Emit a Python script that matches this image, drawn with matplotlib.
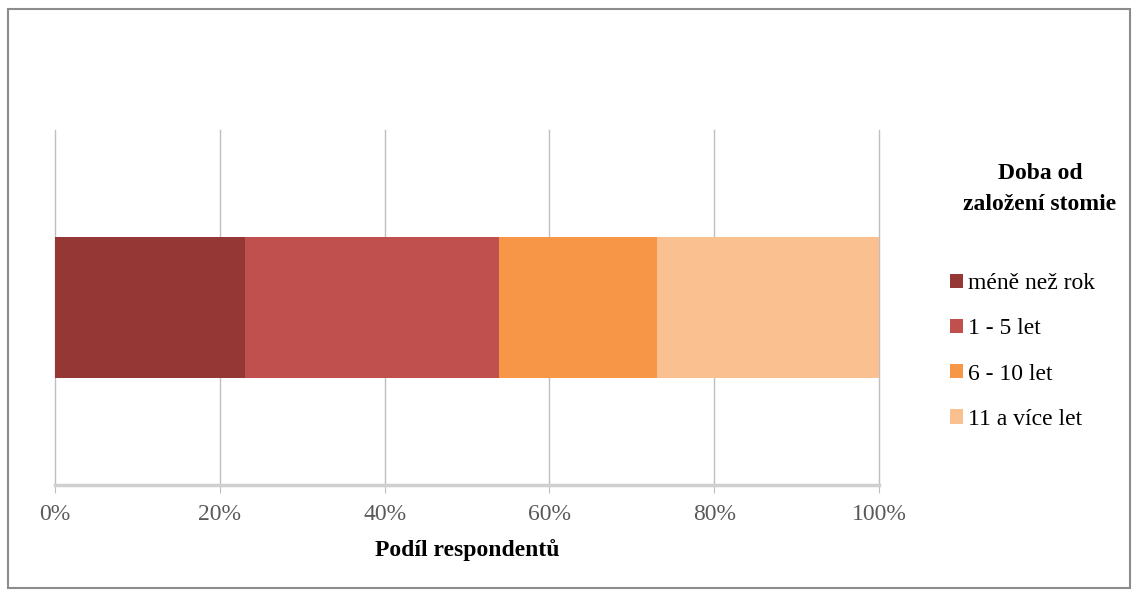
import matplotlib.pyplot as plt
from matplotlib.patches import Rectangle

# time since stoma creation, share of respondents (%)
categories = ['méně než rok', '1 - 5 let', '6 - 10 let', '11 a více let']
shares = [23.1, 30.8, 19.2, 26.9]
colors = ['#953735', '#C0504D', '#F79646', '#FAC090']
ticks = [0, 20, 40, 60, 80, 100]
tick_labels = ['0%', '20%', '40%', '60%', '80%', '100%']

plt.rcParams['font.family'] = ['Liberation Serif', 'DejaVu Serif']

fig = plt.figure(figsize=(11.32, 5.92), dpi=100)
ax = fig.add_axes([55 / 1132, 1 - 485 / 592, 824 / 1132, 355 / 592])

left = 0
for name, val, col in zip(categories, shares, colors):
    ax.barh(0, val, left=left, height=0.395, color=col, label=name, zorder=3)
    left += val

ax.set_xlim(0, 100)
ax.set_ylim(-0.5, 0.5)
ax.set_xticks(ticks)
ax.set_xticklabels(tick_labels, fontsize=17, color='#595959')
ax.set_yticks([])
for t in ticks:
    ax.axvline(t, color='#bfbfbf', lw=1, zorder=0, clip_on=False)
ax.tick_params(axis='x', length=6, color='#bfbfbf', pad=8)
for side in ['top', 'right', 'left']:
    ax.spines[side].set_visible(False)
ax.spines['bottom'].set_color('#d0d0d0')
ax.spines['bottom'].set_linewidth(2.5)

fig.text(467 / 1132, 1 - 550 / 592, 'Podíl respondentů', ha='center', va='center',
         fontsize=17, fontweight='bold')

# legend title and entries
fig.text(1040 / 1132, 1 - 189 / 592, 'Doba od\nzaložení stomie', ha='center', va='center',
         fontsize=17, fontweight='bold', linespacing=1.6)
fig.legend(loc='upper left', bbox_to_anchor=(950 / 1132, 1 - 273 / 592), frameon=False,
           fontsize=17, handlelength=0.55, handleheight=0.55, handletextpad=0.2,
           labelspacing=1.03, borderpad=0, borderaxespad=0)

# chart border
fig.patches.append(Rectangle((8 / 1132, 4 / 592), 1122 / 1132, 579 / 592,
                             transform=fig.transFigure, fill=False,
                             edgecolor='#8c8c8c', lw=1.5))

fig.savefig('out.png', dpi=100)
